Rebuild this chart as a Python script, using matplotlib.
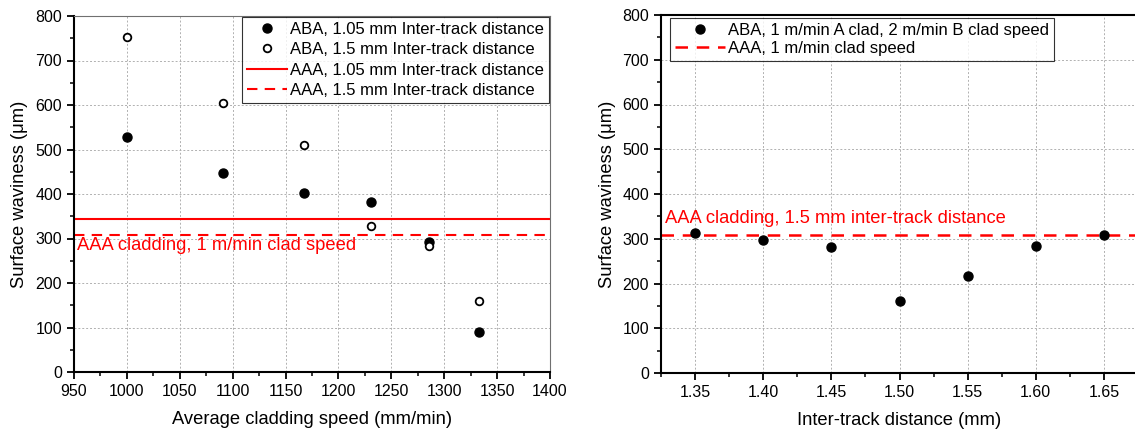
import matplotlib
matplotlib.use("Agg")
import matplotlib.pyplot as plt
from matplotlib.ticker import MultipleLocator, FormatStrFormatter

plt.rcParams['font.family'] = ['Liberation Sans', 'DejaVu Sans']

# Left panel: waviness vs. average cladding speed
speed = [1000, 1091, 1167, 1231, 1286, 1333]
aba_105 = [527, 447, 403, 381, 292, 90]
aba_15 = [752, 604, 509, 329, 283, 160]
aaa_105 = 343
aaa_15 = 308

# Right panel: waviness vs. inter-track distance
track = [1.35, 1.40, 1.45, 1.50, 1.55, 1.60, 1.65]
aba_track = [312, 297, 282, 160, 216, 284, 308]
aaa_track = 309

W, H = 1135, 430
fig = plt.figure(figsize=(W / 100, H / 100), dpi=100)

def px_axes(x0, y0, x1, y1):
    return fig.add_axes([x0 / W, 1 - y1 / H, (x1 - x0) / W, (y1 - y0) / H])

ax1 = px_axes(74, 16, 550, 372)
ax2 = px_axes(661, 15, 1138, 373)

red = '#ff0000'
label_fs = 13.2
tick_fs = 11.5
legend_fs = 12

def style(ax):
    ax.set_ylim(0, 800)
    ax.yaxis.set_major_locator(MultipleLocator(100))
    ax.yaxis.set_minor_locator(MultipleLocator(50))
    ax.grid(True, which='major', color='#b0b0b0', linestyle=(0, (2, 2)), linewidth=0.7)
    ax.set_axisbelow(True)
    ax.tick_params(which='both', direction='out', top=False, right=False,
                   labelsize=tick_fs, colors='black')
    ax.tick_params(which='major', length=5, width=1.3)
    ax.tick_params(which='minor', length=3, width=1.1)
    ax.spines['left'].set_linewidth(1.5)
    ax.spines['bottom'].set_linewidth(1.5)
    ax.set_ylabel('Surface waviness (\u03bcm)', fontsize=label_fs, labelpad=5)

# ---- left panel ----
style(ax1)
ax1.set_xlim(950, 1400)
ax1.xaxis.set_major_locator(MultipleLocator(50))
ax1.xaxis.set_minor_locator(MultipleLocator(25))
for s in ('top', 'right'):
    ax1.spines[s].set_linewidth(0.8)
    ax1.spines[s].set_color('#707070')

ax1.plot(speed, aba_105, 'o', color='black', markersize=6.5, linestyle='none',
         label='ABA, 1.05 mm Inter-track distance', zorder=4)
ax1.plot(speed, aba_15, 'o', markerfacecolor='white', markeredgecolor='black',
         markeredgewidth=1.3, markersize=5.5, linestyle='none',
         label='ABA, 1.5 mm Inter-track distance', zorder=4)
ax1.axhline(aaa_105, color=red, linewidth=1.5, linestyle='-',
            label='AAA, 1.05 mm Inter-track distance')
ax1.axhline(aaa_15, color=red, linewidth=1.5, linestyle=(0, (5, 3.5)),
            label='AAA, 1.5 mm Inter-track distance')
ax1.text(953, 285, 'AAA cladding, 1 m/min clad speed', color=red, fontsize=label_fs,
         va='center', ha='left')
ax1.set_xlabel('Average cladding speed (mm/min)', fontsize=label_fs, labelpad=9)

leg1 = ax1.legend(loc='upper right', fontsize=legend_fs, frameon=True, fancybox=False,
                  borderaxespad=0.05, handlelength=2.4, handletextpad=0.2,
                  labelspacing=0.33, borderpad=0.3)
leg1.get_frame().set_edgecolor('black')
leg1.get_frame().set_linewidth(0.8)

# ---- right panel ----
style(ax2)
ax2.set_xlim(1.325, 1.675)
ax2.xaxis.set_major_locator(MultipleLocator(0.05))
ax2.xaxis.set_minor_locator(MultipleLocator(0.025))
ax2.xaxis.set_major_formatter(FormatStrFormatter('%.2f'))
ax2.spines['top'].set_linewidth(1.5)
ax2.spines['right'].set_visible(False)

ax2.plot(track, aba_track, 'o', color='black', markersize=6.5, linestyle='none',
         label='ABA, 1 m/min A clad, 2 m/min B clad speed', zorder=4)
ax2.axhline(aaa_track, color=red, linewidth=1.8, linestyle=(0, (5, 3.5)),
            label='AAA, 1 m/min clad speed')
ax2.text(1.328, 346, 'AAA cladding, 1.5 mm inter-track distance', color=red,
         fontsize=label_fs, va='center', ha='left')
ax2.set_xlabel('Inter-track distance (mm)', fontsize=label_fs, labelpad=9)

leg2 = ax2.legend(loc='upper left', bbox_to_anchor=(9 / 477, 1 - 3 / 358),
                  fontsize=legend_fs, frameon=True, fancybox=False,
                  borderaxespad=0, handlelength=3.0, handletextpad=0.2,
                  labelspacing=0.2, borderpad=0.3)
leg2.get_frame().set_edgecolor('black')
leg2.get_frame().set_linewidth(0.8)

fig.savefig('out.png', dpi=100)
